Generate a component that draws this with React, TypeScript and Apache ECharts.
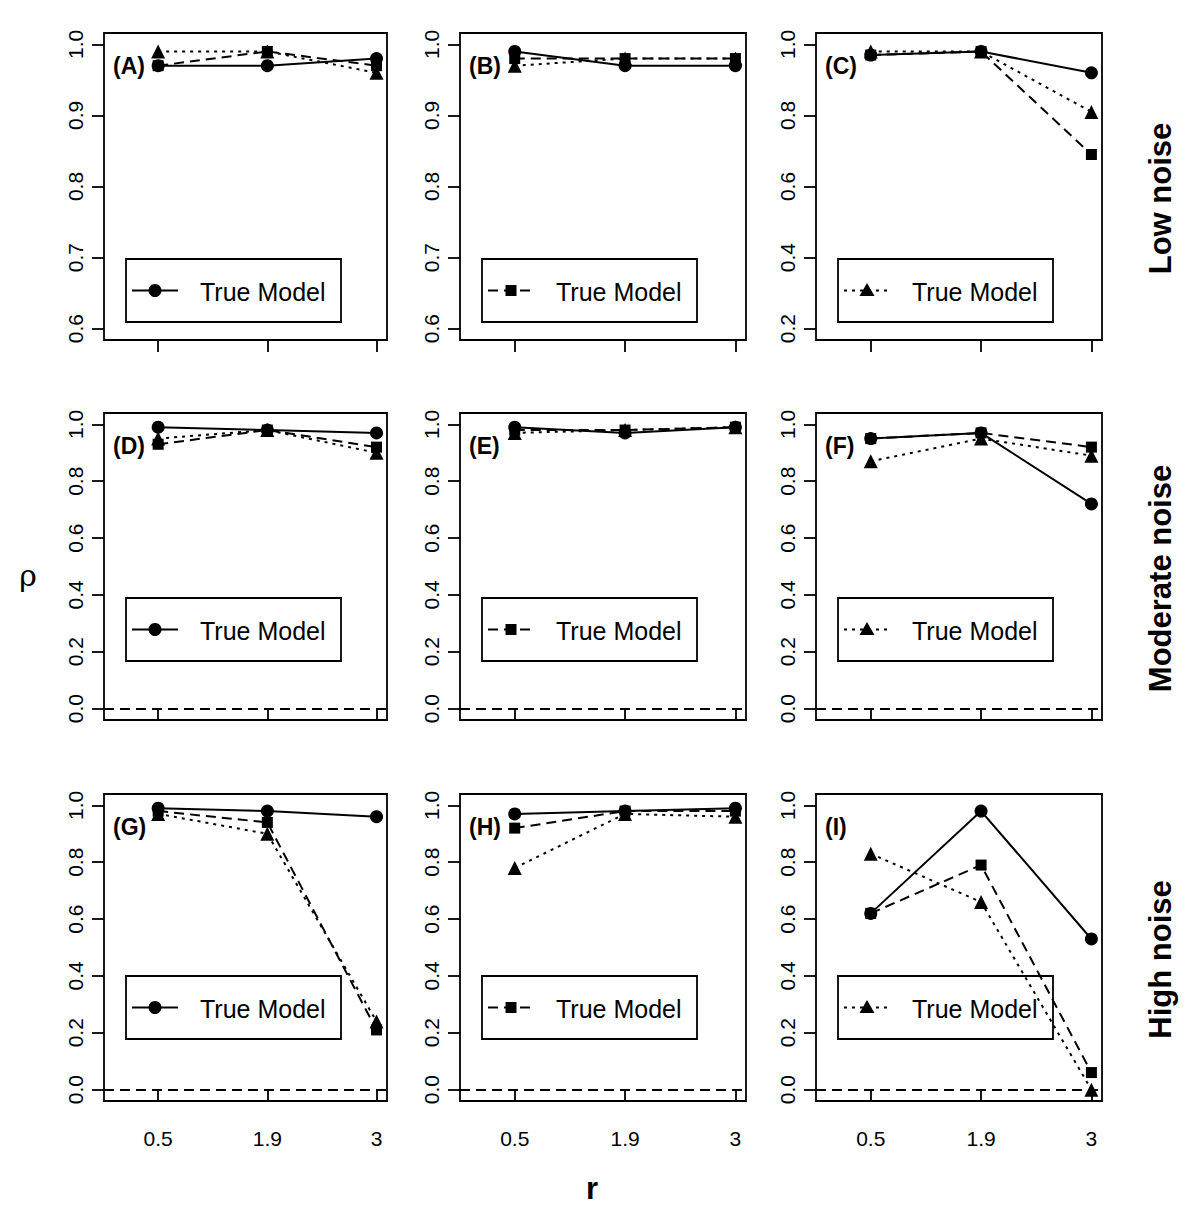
import React, { useEffect, useRef } from "react";
import * as echarts from "echarts";

// ---------- data ----------
const xPositions = [1, 2, 3];
const rLabels = ["0.5", "1.9", "3"];
const panelNames = ["(A)", "(B)", "(C)", "(D)", "(E)", "(F)", "(G)", "(H)", "(I)"];
const rowLabels = ["Low noise", "Moderate noise", "High noise"];
const legendText = "True Model";
const zeroRef = 0;

// circle = solid, square = dashed, triangle = dotted
const circleA = [0.97, 0.97, 0.98];
const squareA = [0.97, 0.99, 0.97];
const triangleA = [0.99, 0.99, 0.96];
const circleB = [0.99, 0.97, 0.97];
const squareB = [0.98, 0.98, 0.98];
const triangleB = [0.97, 0.98, 0.98];
const circleC = [0.97, 0.98, 0.92];
const squareC = [0.97, 0.98, 0.69];
const triangleC = [0.98, 0.98, 0.81];
const circleD = [0.99, 0.98, 0.97];
const squareD = [0.93, 0.98, 0.92];
const triangleD = [0.95, 0.98, 0.9];
const circleE = [0.99, 0.97, 0.99];
const squareE = [0.98, 0.98, 0.99];
const triangleE = [0.97, 0.98, 0.99];
const circleF = [0.95, 0.97, 0.72];
const squareF = [0.95, 0.97, 0.92];
const triangleF = [0.87, 0.95, 0.89];
const circleG = [0.99, 0.98, 0.96];
const squareG = [0.98, 0.94, 0.21];
const triangleG = [0.97, 0.9, 0.24];
const circleH = [0.97, 0.98, 0.99];
const squareH = [0.92, 0.98, 0.98];
const triangleH = [0.78, 0.97, 0.96];
const circleI = [0.62, 0.98, 0.53];
const squareI = [0.62, 0.79, 0.06];
const triangleI = [0.83, 0.66, 0.0];

const circles = [circleA, circleB, circleC, circleD, circleE, circleF, circleG, circleH, circleI];
const squares = [squareA, squareB, squareC, squareD, squareE, squareF, squareG, squareH, squareI];
const triangles = [triangleA, triangleB, triangleC, triangleD, triangleE, triangleF, triangleG, triangleH, triangleI];

const yTicksLow = [0.6, 0.7, 0.8, 0.9, 1.0];
const yTicksC = [0.2, 0.4, 0.6, 0.8, 1.0];
const yTicksFull = [0.0, 0.2, 0.4, 0.6, 0.8, 1.0];
const yLims = [
  [0.6, 1.0], [0.6, 1.0], [0.2, 1.0],
  [0.0, 1.0], [0.0, 1.0], [0.0, 1.0],
  [0.0, 1.0], [0.0, 1.0], [0.0, 1.0],
];
const yTickSets = [yTicksLow, yTicksLow, yTicksC, yTicksFull, yTicksFull, yTicksFull, yTicksFull, yTicksFull, yTicksFull];
const xLim = [0.6, 3.0];

// ---------- layout ----------
const colLefts = [104, 460, 816];
const colWidths = [283, 286, 286];
const rowTops = [33, 413, 794];
const rowHeight = 307;
const legendTops = [226, 185, 182];

const FONT = "'Liberation Sans', Arial, Helvetica, sans-serif";
const BLACK = "#000";
const DASH = [10, 6];
const DOT = [3, 5];
const LW = 2;

function extend(lim: number[]) {
  const r = lim[1] - lim[0];
  return [lim[0] - 0.04 * r, lim[1] + 0.04 * r];
}

export default function App() {
  const ref = useRef<HTMLDivElement>(null);

  useEffect(() => {
    if (!ref.current) return;
    const chart = echarts.init(ref.current, null, { renderer: "svg" });

    const grids: any[] = [];
    const xAxes: any[] = [];
    const yAxes: any[] = [];
    const series: any[] = [];
    const graphics: any[] = [];
    const xr = extend(xLim);

    for (let i = 0; i < 9; i++) {
      const row = Math.floor(i / 3);
      const col = i % 3;
      const left = colLefts[col];
      const top = rowTops[row];
      const width = colWidths[col];
      grids.push({
        left, top, width, height: rowHeight,
        show: true, borderColor: BLACK, borderWidth: 1.8,
        backgroundColor: "transparent", containLabel: false,
      });
      xAxes.push({
        type: "value", gridIndex: i, min: xr[0], max: xr[1],
        axisLine: { show: false },
        splitLine: { show: false },
        axisTick: { show: true, inside: false, length: 12, customValues: xPositions, lineStyle: { color: BLACK, width: 1.8 } },
        axisLabel: {
          show: row === 2, customValues: xPositions, margin: 27,
          fontSize: 21, color: BLACK, fontFamily: FONT,
          formatter: (v: number) => rLabels[xPositions.indexOf(Math.round(v))] ?? "",
        },
      });
      const yr = extend(yLims[i]);
      yAxes.push({
        type: "value", gridIndex: i, min: yr[0], max: yr[1],
        axisLine: { show: false },
        splitLine: { show: false },
        axisTick: { show: true, inside: false, length: 12, customValues: yTickSets[i], lineStyle: { color: BLACK, width: 1.8 } },
        axisLabel: {
          show: true, customValues: yTickSets[i], rotate: 90, margin: 18,
          fontSize: 21, color: BLACK, fontFamily: FONT,
          formatter: (v: number) => v.toFixed(1),
        },
      });

      const mk = (vals: number[]) => vals.map((v, j) => [xPositions[j], v]);
      const base = { type: "line", xAxisIndex: i, yAxisIndex: i, silent: true, itemStyle: { color: BLACK }, z: 3 };
      series.push({
        ...base, name: "triangle" + i, data: mk(triangles[i]), symbol: "triangle", symbolSize: 14,
        lineStyle: { color: BLACK, width: LW, type: DOT },
        markLine: row > 0 ? {
          silent: true, symbol: "none", label: { show: false },
          lineStyle: { color: BLACK, width: 1.8, type: DASH }, data: [{ yAxis: zeroRef }],
        } : undefined,
      });
      series.push({
        ...base, name: "square" + i, data: mk(squares[i]), symbol: "rect", symbolSize: 11,
        lineStyle: { color: BLACK, width: LW, type: DASH },
      });
      series.push({
        ...base, name: "circle" + i, data: mk(circles[i]), symbol: "circle", symbolSize: 13,
        lineStyle: { color: BLACK, width: LW, type: "solid" },
      });

      // panel label
      graphics.push({
        type: "text", x: left + 9, y: top + 33,
        style: { text: panelNames[i], fontSize: 23, fontWeight: "bold", fontFamily: FONT, fill: BLACK, align: "left", verticalAlign: "middle" },
        z: 10,
      });

      // legend
      const lx = left + 22;
      const ly = top + legendTops[row];
      const lw = 215;
      const lh = 63;
      const cy = ly + lh / 2;
      const kind = col; // 0 circle solid, 1 square dashed, 2 triangle dotted
      const lineType = kind === 0 ? "solid" : kind === 1 ? DASH : DOT;
      graphics.push({
        type: "rect", shape: { x: lx, y: ly, width: lw, height: lh },
        style: { fill: "none", stroke: BLACK, lineWidth: 1.8 }, z: 10,
      });
      graphics.push({
        type: "line", shape: { x1: lx + 6, y1: cy, x2: lx + 52, y2: cy },
        style: { stroke: BLACK, lineWidth: LW, lineDash: lineType === "solid" ? null : lineType }, z: 10,
      });
      const mx = lx + 29;
      if (kind === 0) {
        graphics.push({ type: "circle", shape: { cx: mx, cy, r: 6.5 }, style: { fill: BLACK }, z: 11 });
      } else if (kind === 1) {
        graphics.push({ type: "rect", shape: { x: mx - 5.5, y: cy - 5.5, width: 11, height: 11 }, style: { fill: BLACK }, z: 11 });
      } else {
        graphics.push({ type: "polygon", shape: { points: [[mx, cy - 7.5], [mx - 7.5, cy + 5.5], [mx + 7.5, cy + 5.5]] }, style: { fill: BLACK }, z: 11 });
      }
      graphics.push({
        type: "text", x: lx + 74, y: cy + 1,
        style: { text: legendText, fontSize: 25, fontFamily: FONT, fill: BLACK, align: "left", verticalAlign: "middle" }, z: 10,
      });
    }

    // row labels
    for (let r = 0; r < 3; r++) {
      graphics.push({
        type: "text", x: 1160, y: rowTops[r] + rowHeight / 2 + 12, rotation: Math.PI / 2,
        style: { text: rowLabels[r], fontSize: 31, fontWeight: "bold", fontFamily: FONT, fill: BLACK, align: "center", verticalAlign: "middle" },
      });
    }
    // axis titles
    graphics.push({
      type: "text", x: 592, y: 1188,
      style: { text: "r", fontSize: 31, fontWeight: "bold", fontFamily: FONT, fill: BLACK, align: "center", verticalAlign: "middle" },
    });
    graphics.push({
      type: "text", x: 28, y: 575,
      style: { text: "ρ", fontSize: 30, fontFamily: "'DejaVu Serif', serif", fill: BLACK, align: "center", verticalAlign: "middle" },
    });

    chart.setOption({
      animation: false,
      backgroundColor: "#fff",
      textStyle: { fontFamily: FONT },
      grid: grids,
      xAxis: xAxes,
      yAxis: yAxes,
      series,
      graphic: graphics,
    });

    return () => chart.dispose();
  }, []);

  return <div ref={ref} style={{ position: "absolute", left: 0, top: 0, width: 1200, height: 1215 }} />;
}
